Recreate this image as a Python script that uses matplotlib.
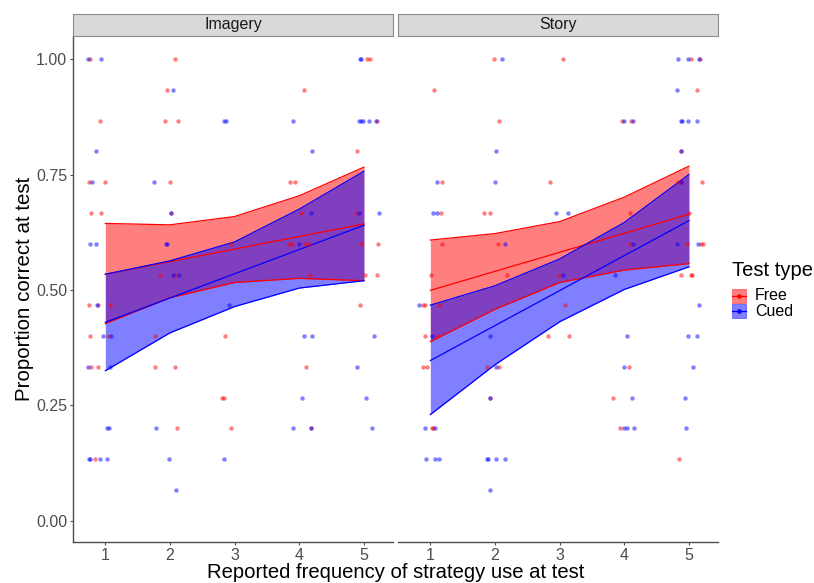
import numpy as np
import matplotlib.pyplot as plt
from matplotlib.patches import Rectangle
from matplotlib.lines import Line2D

plt.rcParams['font.family'] = ['Liberation Sans', 'DejaVu Sans']

# scores are correct items out of 15; keys are the score, values the jittered x positions
imagery_free = {15: [0.77, 2.08, 5.05, 5.09], 14: [1.95, 4.07], 13: [0.92, 1.92, 2.13, 5.21],
                12: [4.9], 11: [0.75, 0.99, 2.0, 3.86, 3.94], 10: [0.78, 0.93, 2.02, 4.02, 4.87],
                9: [2.95, 3.84, 3.89, 4.09, 4.15, 4.95, 5.22], 8: [1.85, 2.08, 4.17, 5.02, 5.2],
                7: [0.74, 0.89, 1.07, 4.94], 6: [0.77, 1.04, 1.77, 2.85],
                5: [0.78, 0.88, 1.77, 2.08, 4.1], 4: [2.81, 2.83], 3: [2.11, 2.95, 4.18], 2: [0.84]}
imagery_cued = {15: [0.73, 0.93, 4.94, 4.96], 14: [2.05],
                13: [2.84, 2.86, 3.91, 4.92, 4.95, 4.99, 5.08, 5.18], 12: [0.85, 4.2],
                11: [0.8, 1.76], 10: [2.02, 4.18, 4.93, 5.23], 9: [0.76, 0.86, 1.94, 1.96, 4.0],
                8: [2.04, 2.14], 7: [0.87, 2.91], 6: [0.96, 1.09, 4.07, 4.2, 5.15],
                5: [0.73, 1.07, 4.89], 4: [4.04, 5.04], 3: [1.03, 1.05, 1.78, 3.91, 4.18, 5.13],
                2: [0.75, 0.77, 0.92, 1.02, 1.99, 2.83], 1: [2.09]}
story_free = {15: [1.98, 3.06, 5.03, 5.17], 14: [1.06, 5.13], 13: [2.07, 3.97, 4.1], 12: [4.88],
              11: [1.18, 2.85, 4.83, 4.88, 5.21], 10: [1.17, 1.83, 1.93, 4.09, 5.0],
              9: [1.18, 2.04, 4.09, 4.97, 5.19, 5.22], 8: [1.01, 2.18, 2.99, 4.87, 5.03, 5.05],
              7: [0.88, 0.92, 1.14, 3.08], 6: [0.92, 1.1, 2.82, 3.15],
              5: [0.88, 0.95, 1.88, 2.06, 4.07], 4: [1.93, 3.82], 3: [1.02, 1.04, 3.94], 2: [4.84]}
story_cued = {15: [2.11, 4.83, 4.99, 5.15], 14: [4.82], 13: [3.99, 4.13, 4.87, 4.9, 4.98, 5.13],
              12: [2.01, 4.88], 11: [1.11, 2.0, 4.88], 10: [1.04, 1.1, 2.95, 3.13],
              9: [2.16, 4.14, 4.82, 5.14], 8: [3.06, 3.86], 7: [0.83, 5.15],
              6: [1.03, 1.93, 4.04, 4.98, 5.13], 5: [2.02, 4.0, 5.06], 4: [1.93, 4.12, 4.94],
              3: [0.92, 1.07, 3.99, 4.05, 4.15, 4.95], 2: [0.94, 1.07, 1.14, 1.87, 1.89, 2.01, 2.16],
              1: [1.93]}

freq = [1, 2, 3, 4, 5]
# model confidence bands at each frequency level
imagery_free_hi = [0.644, 0.641, 0.659, 0.704, 0.766]
imagery_free_lo = [0.427, 0.483, 0.516, 0.525, 0.520]
imagery_cued_hi = [0.534, 0.563, 0.604, 0.675, 0.757]
imagery_cued_lo = [0.325, 0.407, 0.464, 0.504, 0.520]
story_free_hi = [0.608, 0.622, 0.648, 0.701, 0.768]
story_free_lo = [0.388, 0.458, 0.516, 0.543, 0.557]
story_cued_hi = [0.467, 0.509, 0.567, 0.646, 0.750]
story_cued_lo = [0.230, 0.338, 0.431, 0.501, 0.550]
# linear fits, value at frequency 1 and 5
imagery_free_fit = [0.534, 0.643]
imagery_cued_fit = [0.430, 0.640]
story_free_fit = [0.499, 0.664]
story_cued_fit = [0.347, 0.650]

panels = ['Imagery', 'Story']
groups = ['Free', 'Cued']
colors = {'Free': '#FF0000', 'Cued': '#0000FF'}

data = {
    'Imagery': {'Free': (imagery_free, imagery_free_lo, imagery_free_hi, imagery_free_fit),
                'Cued': (imagery_cued, imagery_cued_lo, imagery_cued_hi, imagery_cued_fit)},
    'Story': {'Free': (story_free, story_free_lo, story_free_hi, story_free_fit),
              'Cued': (story_cued, story_cued_lo, story_cued_hi, story_cued_fit)},
}

fig = plt.figure(figsize=(8.14, 5.83), dpi=100)
W, H = 814, 583
ax_boxes = [(73, 393), (398, 718)]
top, bottom = 36, 542
axis_grey = '#4D4D4D'

for i, panel in enumerate(panels):
    x0, x1 = ax_boxes[i]
    ax = fig.add_axes([x0 / W, 1 - bottom / H, (x1 - x0) / W, (bottom - top) / H])
    for g in groups:
        pts, lo, hi, fit = data[panel][g]
        c = colors[g]
        ax.fill_between(freq, lo, hi, color=c, alpha=0.5, lw=0)
        ax.plot(freq, lo, color=c, lw=0.9)
        ax.plot(freq, hi, color=c, lw=0.9)
        ax.plot([freq[0], freq[-1]], fit, color=c, lw=0.9)
    for g in groups:
        pts = data[panel][g][0]
        xs = [x for k in pts for x in pts[k]]
        ys = [k / 15 for k in pts for _ in pts[k]]
        ax.scatter(xs, ys, s=10, color=colors[g], alpha=0.5, lw=0, zorder=3)

    ax.set_xlim(0.5, 5.45)
    ax.set_ylim(-0.046, 1.05)
    ax.set_xticks(freq)
    ax.set_xticklabels([str(f) for f in freq])
    ax.set_yticks([0, 0.25, 0.5, 0.75, 1.0])
    ax.set_yticklabels(['0.00', '0.25', '0.50', '0.75', '1.00'])
    ax.tick_params(labelsize=11.5, labelcolor=axis_grey, color=axis_grey, length=2.2,
                   width=0.8, pad=2)
    for s in ['top', 'right']:
        ax.spines[s].set_visible(False)
    for s in ['bottom', 'left']:
        ax.spines[s].set_color(axis_grey)
        ax.spines[s].set_linewidth(1.0)
    if i == 1:
        ax.spines['left'].set_visible(False)
        ax.tick_params(axis='y', left=False, labelleft=False)

    # facet strip
    sx = fig.add_axes([x0 / W, 1 - 36 / H, (x1 - x0) / W, 22 / H])
    sx.set_facecolor('#D9D9D9')
    sx.set_xticks([])
    sx.set_yticks([])
    for s in sx.spines.values():
        s.set_color('#8C8C8C')
        s.set_linewidth(0.8)
    sx.text(0.5, 0.5, panel, ha='center', va='center', fontsize=11.5, color='#1A1A1A',
            transform=sx.transAxes)

fig.text(396 / W, 1 - 572 / H, 'Reported frequency of strategy use at test',
         ha='center', va='center', fontsize=14.6)
fig.text(25 / W, 1 - 289 / H, 'Proportion correct at test', rotation=90,
         ha='center', va='center', fontsize=14.8)

# legend keys: translucent box with a line and point through it
fig.text(732 / W, 1 - 270 / H, 'Test type', ha='left', va='center', fontsize=14.5)
for j, g in enumerate(groups):
    ky = 289 + j * 15
    c = colors[g]
    fig.patches.append(Rectangle((732 / W, 1 - (ky + 14) / H), 14 / W, 14 / H,
                                 transform=fig.transFigure, facecolor=c, alpha=0.5,
                                 edgecolor=c, lw=0.6))
    fig.lines.append(Line2D([732 / W, 746 / W], [1 - (ky + 7) / H] * 2,
                            transform=fig.transFigure, color=c, lw=0.9))
    fig.lines.append(Line2D([739 / W], [1 - (ky + 7) / H], transform=fig.transFigure,
                            color=c, marker='o', ms=2.5, lw=0, alpha=0.8))
    fig.text(755 / W, 1 - (ky + 7) / H, g, ha='left', va='center', fontsize=11.5)

plt.savefig('out.png', dpi=100)
